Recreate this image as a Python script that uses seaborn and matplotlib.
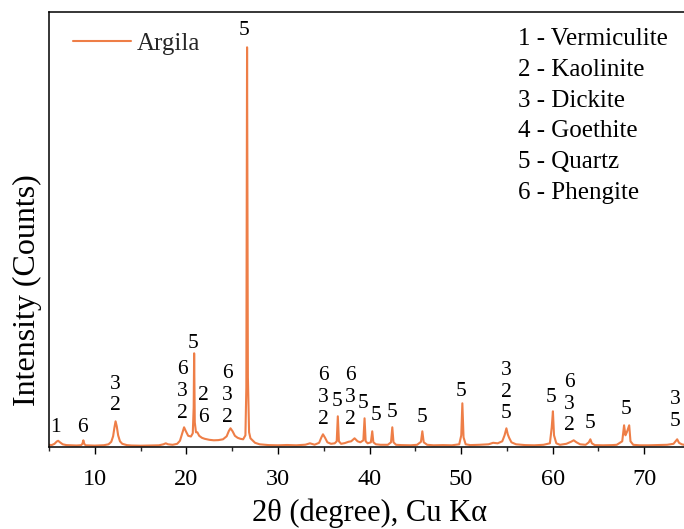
import matplotlib
matplotlib.use("Agg")
import matplotlib.pyplot as plt
from matplotlib.ticker import MultipleLocator
import seaborn as sns
import pandas as pd

# XRD pattern of the clay sample (2θ in degrees, intensity in counts)
two_theta = [
    5.0, 5.3, 5.6, 5.85, 6.0, 6.2, 6.5, 6.9, 7.5, 8.0, 8.5, 8.65, 8.75, 8.85, 9.0,
    9.5, 10.0, 10.5, 11.0, 11.5, 11.8, 12.0, 12.15, 12.27, 12.4, 12.55, 12.75, 13.0,
    13.5, 14.0, 15.0, 16.0, 17.0, 17.5, 17.75, 18.0, 18.5, 19.0, 19.3, 19.55, 19.75,
    19.95, 20.2, 20.5, 20.7, 20.8, 20.85, 20.92, 21.05, 21.2, 21.4, 21.7, 22.0, 22.5,
    23.0, 23.5, 24.0, 24.4, 24.65, 24.82, 25.05, 25.3, 25.6, 25.9, 26.2, 26.45, 26.55,
    26.63, 26.72, 26.85, 27.0, 27.5, 28.0, 29.0, 30.0, 31.0, 32.0, 33.0, 33.5, 34.0,
    34.5, 34.75, 34.92, 35.15, 35.4, 35.8, 36.2, 36.42, 36.54, 36.66, 36.9, 37.3, 37.7,
    38.0, 38.37, 38.7, 39.0, 39.33, 39.46, 39.58, 39.8, 40.15, 40.3, 40.42, 40.7, 41.2,
    42.0, 42.35, 42.49, 42.62, 42.9, 43.5, 44.5, 45.2, 45.62, 45.77, 45.92, 46.3, 47.0,
    48.0, 49.0, 49.8, 50.02, 50.14, 50.27, 50.5, 51.0, 52.0, 53.0, 53.5, 54.0, 54.5,
    54.75, 54.95, 55.1, 55.25, 55.5, 56.0, 57.0, 58.0, 59.0, 59.7, 59.9, 60.03, 60.15,
    60.4, 60.8, 61.5, 62.0, 62.3, 62.6, 63.0, 63.6, 63.95, 64.12, 64.28, 64.6, 65.5,
    66.5, 67.0, 67.6, 67.8, 67.95, 68.1, 68.36, 68.5, 68.8, 69.5, 70.5, 71.5, 72.5,
    73.2, 73.6, 73.8, 74.1, 74.5, 75.0,
]
intensity = [
    25, 22, 35, 58, 65, 50, 30, 22, 20, 18, 21, 35, 70, 35, 20,
    18, 17, 19, 21, 30, 55, 110, 200, 260, 210, 120, 60, 35,
    22, 18, 16, 18, 20, 30, 40, 30, 25, 35, 65, 140, 200,
    160, 115, 108, 140, 400, 940, 250, 150, 150, 115, 95, 85, 75,
    70, 72, 80, 110, 165, 190, 160, 115, 95, 85, 80, 120, 600,
    4000, 700, 150, 90, 45, 30, 22, 20, 23, 20, 26, 40, 26,
    45, 100, 130, 95, 50, 35, 40, 60, 310, 60, 35, 42, 55,
    60, 90, 60, 50, 70, 290, 60, 40, 50, 160, 50, 30, 25,
    25, 50, 200, 50, 25, 22, 20, 25, 55, 160, 50, 25, 20,
    22, 20, 30, 120, 440, 100, 30, 22, 25, 30, 45, 40, 60,
    120, 190, 130, 95, 50, 30, 22, 20, 25, 40, 200, 360, 120,
    40, 25, 35, 55, 70, 50, 30, 25, 50, 80, 40, 22, 20,
    22, 25, 60, 220, 120, 150, 220, 60, 25, 20, 20, 22, 25,
    35, 80, 45, 30, 22, 20,
]

# Phase identification labels: peak position, height of the lowest digit, stacked text
label_theta = [5.76, 8.6, 12.21, 19.53, 20.69, 21.86, 24.52, 26.34, 34.98, 36.48,
               37.93, 39.35, 40.74, 42.49, 45.77, 50.04, 54.96, 59.8, 61.8, 64.14,
               68.07, 73.35]
label_base = [193, 203, 413, 340, 1033, 300, 303, 4173, 283, 456,
              280, 433, 323, 346, 300, 556, 333, 500, 213, 233,
              380, 256]
label_text = ["1", "6", "3\n2", "6\n3\n2", "5", "2\n6", "6\n3\n2", "5", "6\n3\n2", "5",
              "6\n3\n2", "5", "5", "5", "5", "5", "3\n2\n5", "5", "6\n3\n2", "5",
              "5", "3\n5"]

phases = ["1 - Vermiculite", "2 - Kaolinite", "3 - Dickite",
          "4 - Goethite", "5 - Quartz", "6 - Phengite"]

x_ticks = [10, 20, 30, 40, 50, 60, 70]

sns.set_theme(style="ticks")
plt.rcParams["font.family"] = ["Liberation Serif", "DejaVu Serif"]

W, H = 684, 529
fig = plt.figure(figsize=(W / 100, H / 100), dpi=100)
left, right, top, bottom = 49, 690, 12.3, 447.3
ax = fig.add_axes([left / W, (H - bottom) / H, (right - left) / W, (bottom - top) / H])

df = pd.DataFrame({"2theta": two_theta, "counts": intensity})
color = "#EE7E47"
sns.lineplot(data=df, x="2theta", y="counts", color=color, lw=1.5,
             label="Argila", ax=ax, errorbar=None, sort=False)

ax.set_xlim(5, 75)
ax.set_ylim(0, 4350)
ax.set_xticks(x_ticks)
ax.xaxis.set_minor_locator(MultipleLocator(5))
ax.set_yticks([])
ax.set_xlabel("")
ax.set_ylabel("")
ax.tick_params(axis="x", which="major", direction="out", length=5, width=1,
               labelsize=17.5, pad=10.5, colors="black")
ax.tick_params(axis="x", which="minor", direction="out", length=3, width=1)
for side in ["left", "top", "bottom"]:
    ax.spines[side].set_visible(True)
    ax.spines[side].set_linewidth(1.1)
    ax.spines[side].set_color("black")
ax.spines["right"].set_visible(False)

# stacked phase digits above each peak
step_pt = 15.8
for th, base, txt in zip(label_theta, label_base, label_text):
    digits = txt.split("\n")
    for i, d in enumerate(reversed(digits)):
        ax.annotate(d, xy=(th, base), xytext=(0, i * step_pt), textcoords="offset points",
                    ha="center", va="center", fontsize=15.5, color="black")

leg = ax.legend(loc="upper left", frameon=False, fontsize=18, handlelength=2.3,
                handletextpad=0.25, borderaxespad=0.0,
                bbox_to_anchor=(14 / (right - left), 1 - 10 / (bottom - top)))

for i, p in enumerate(phases):
    fig.text(518 / W, 1 - (39 + i * 30.8) / H, p, ha="left", va="center",
             fontsize=18, color="black")

fig.text(369 / W, 1 - 513 / H, "2θ (degree), Cu Kα", ha="center", va="center",
         fontsize=22, color="black")
fig.text(27.5 / W, 1 - 290 / H, "Intensity (Counts)", ha="center", va="center",
         rotation=90, fontsize=23, color="black")

fig.savefig("out.png", dpi=100)
